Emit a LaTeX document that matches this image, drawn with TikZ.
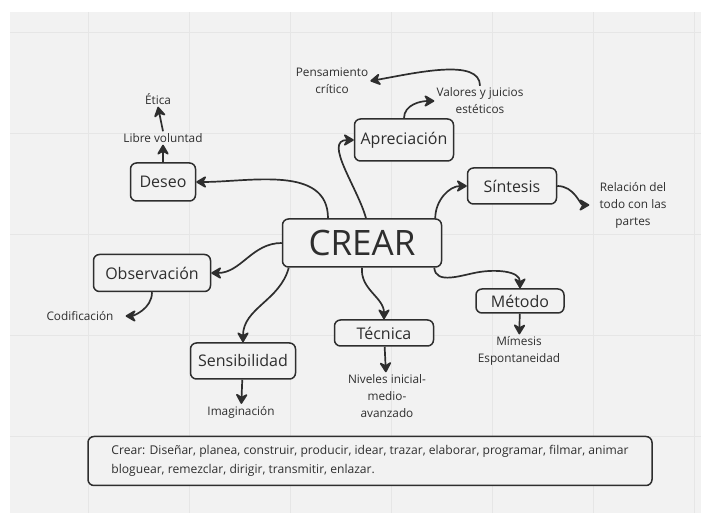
\documentclass[tikz,border=0pt]{standalone}
\usepackage{fontspec}
\setmainfont{Open Sans}
\usetikzlibrary{arrows.meta,positioning}
\definecolor{canvas}{HTML}{F2F2F2}
\definecolor{gridline}{HTML}{E6E6E6}
\definecolor{ink}{HTML}{2E2E2E}
\tikzset{%
	>={Stealth[length=12pt,width=14pt,inset=4pt,round]},
	concept/.style={rectangle, rounded corners=6pt, draw=ink, line width=1.5pt, fill=canvas, text=ink, font=\fontsize{16}{19}\selectfont, inner sep=0pt},
	leaf/.style={align=center, text=ink, font=\fontsize{11.8}{17}\selectfont, inner sep=2pt},
	link/.style={->, draw=ink, line width=1.7pt}
}

\begin{document}
\begin{tikzpicture}[x=1pt,y=1pt]
\useasboundingbox (0,0) rectangle (701,513);
\fill[white] (0,0) rectangle (701,513);
\fill[canvas] (10,0) rectangle (701,501);
\foreach \gx in {88,189,...,694} \draw[gridline, line width=1pt] (\gx,0) -- (\gx,501);
\foreach \gy in {76,177,...,480} \draw[gridline, line width=1pt] (10,\gy) -- (701,\gy);

% main concept and branches
\node (crear) [concept, minimum width=159pt, minimum height=48pt, font=\fontsize{35}{40}\selectfont] at (362,270) {CREAR};
\node (deseo) [concept, minimum width=65pt, minimum height=38pt] at (163,331) {Deseo};
\node (apreciacion) [concept, minimum width=99pt, minimum height=42pt] at (404,373) {Apreciación};
\node (sintesis) [concept, minimum width=89pt, minimum height=36pt] at (512,327) {Síntesis};
\node (observacion) [concept, minimum width=117pt, minimum height=37pt] at (152,240) {Observación};
\node (sensibilidad) [concept, minimum width=105pt, minimum height=36pt] at (243,152) {Sensibilidad};
\node (tecnica) [concept, minimum width=99pt, minimum height=26pt] at (384,180) {Técnica};
\node (metodo) [concept, minimum width=88pt, minimum height=24pt] at (520,212) {Método};

% leaves
\node (libre) [leaf] at (163,375) {Libre voluntad};
\node (etica) [leaf] at (158,414) {Ética};
\node (valores) [leaf] at (480,412) {Valores y juicios\\estéticos};
\node (pensamiento) [leaf] at (332,432) {Pensamiento\\crítico};
\node (relacion) [leaf] at (633,308) {Relación del\\todo con las\\partes};
\node (codificacion) [leaf] at (80,197) {Codificación};
\node (imaginacion) [leaf] at (241,101) {Imaginación};
\node (niveles) [leaf] at (387,117) {Niveles inicial-\\medio-\\avanzado};
\node (mimesis) [leaf] at (519,162) {Mímesis\\Espontaneidad};

\node (verbos) [concept, align=left, minimum width=564pt, minimum height=49pt, font=\fontsize{12.1}{18.5}\selectfont] at (370,52) {Crear: Diseñar, planea, construir, producir, idear, trazar, elaborar, programar, filmar, animar\\bloguear, remezclar, dirigir, transmitir, enlazar.};

\draw[link] ([xshift=-34pt]crear.north) to[out=90,in=0] (deseo.east);
\draw[link] (deseo) -- (libre);
\draw[link] (libre.north) -- (etica.south);
\draw[link] ([xshift=4pt]crear.north) to[out=105,in=180] (apreciacion.west);
\draw[link] (apreciacion.north) to[out=90,in=180] (valores.west);
\draw[link] (valores.north) .. controls +(0,28) and +(45,8) .. (pensamiento.east);
\draw[link] ([xshift=-7pt]crear.north east) to[out=90,in=180] (sintesis.west);
\draw[link, shorten >=8pt] (sintesis.east) to[out=0,in=180] (relacion.west);
\draw[link] (crear.west) to[out=180,in=0] (observacion.east);
\draw[link, shorten >=10pt] (observacion.south) to[out=-90,in=0] (codificacion.east);
\draw[link] ([xshift=7pt]crear.south west) to[out=-105,in=90] (sensibilidad.north);
\draw[link] (sensibilidad) -- (imaginacion);
\draw[link] (crear.south) to[out=-95,in=90] (tecnica.north);
\draw[link] (tecnica) -- (niveles);
\draw[link] ([xshift=-8pt]crear.south east) to[out=-85,in=190] ([xshift=-42pt,yshift=16pt]metodo.north) to[out=10,in=90] (metodo.north);
\draw[link] (metodo) -- (mimesis);

\end{tikzpicture}
\end{document}
